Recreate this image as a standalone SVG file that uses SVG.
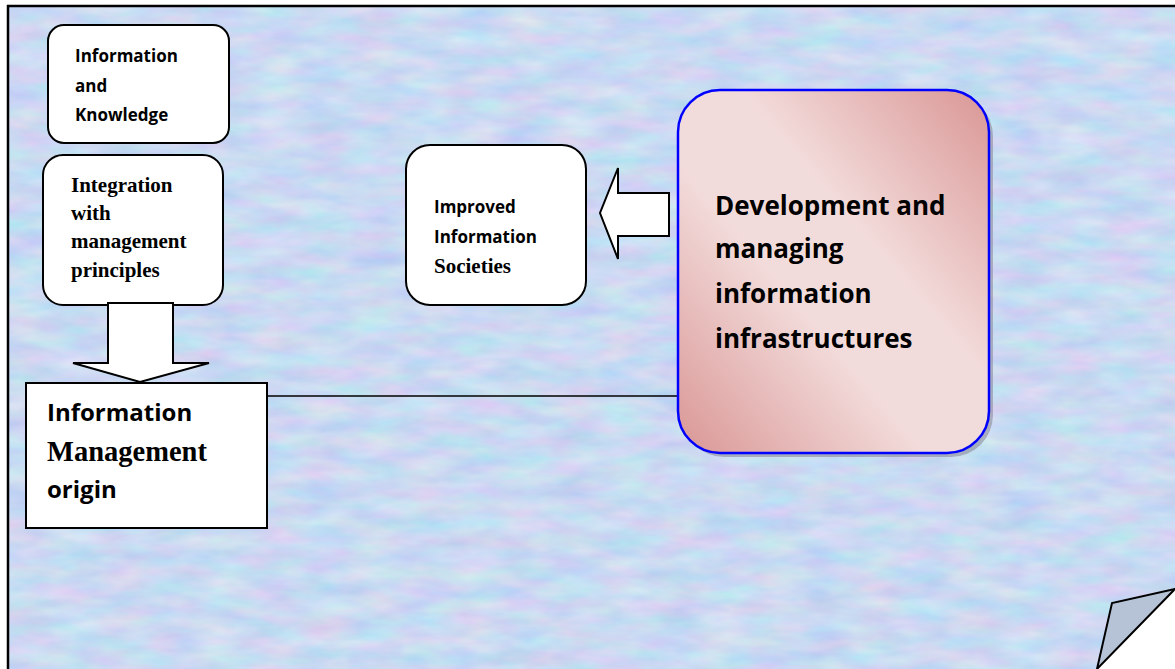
<svg xmlns="http://www.w3.org/2000/svg" width="1175" height="669" viewBox="0 0 1175 669">
<style>
.sans{font-family:"Open Sans","Liberation Sans",sans-serif;font-weight:bold;fill:#000}
.serif{font-family:"Liberation Serif","Times New Roman",serif;font-weight:bold;fill:#000}
.box{fill:#fff;stroke:#000;stroke-width:2}
.arrow{fill:#fff;stroke:#000;stroke-width:2;stroke-linejoin:miter}
</style>
<defs>
<filter id="tex" x="0" y="0" width="100%" height="100%" color-interpolation-filters="sRGB">
<feTurbulence type="fractalNoise" baseFrequency="0.02 0.06" numOctaves="3" seed="7"/>
<feColorMatrix type="matrix" values="0.6 0 0 0 0.5  0 0.4 0 0 0.65  0 0 0.15 0 0.87  0 0 0 0 1"/>
</filter>
<clipPath id="page"><path d="M8,6 H1175 V589 L1097,669 H8 Z"/></clipPath>
<linearGradient id="pink" x1="1" y1="0" x2="0" y2="1">
<stop offset="0" stop-color="#d99694"/>
<stop offset="0.4" stop-color="#f2dcdb"/>
<stop offset="0.6" stop-color="#f2dcdb"/>
<stop offset="1" stop-color="#d99694"/>
</linearGradient>
</defs>
<rect width="1175" height="669" fill="#fff"/>
<g id="page-bg">
<rect x="8" y="6" width="1167" height="663" fill="#c9dbf3" clip-path="url(#page)"/>
<rect x="8" y="6" width="1167" height="663" filter="url(#tex)" opacity="0.4" clip-path="url(#page)"/>
<path d="M8,669 V6 H1175" fill="none" stroke="#000" stroke-width="2.5"/>
<path d="M1175,589 L1112,603 L1097,669 Z" fill="#b6c3d6" stroke="#000" stroke-width="2" stroke-linejoin="miter"/>
</g>
<g id="connectors">
<line x1="267" y1="396" x2="680" y2="396" stroke="#000" stroke-width="1.5"/>
</g>
<g id="node-info-knowledge">
<rect class="box" x="48" y="25" width="181" height="118" rx="16"/>
<text class="sans" font-size="17" x="75" y="62">Information</text>
<text class="sans" font-size="17" x="75" y="92">and</text>
<text class="sans" font-size="17" x="75" y="121">Knowledge</text>
</g>
<g id="node-integration">
<rect class="box" x="43" y="155" width="180" height="150" rx="20"/>
<text class="serif" font-size="21" x="71" y="192">Integration</text>
<text class="serif" font-size="21" x="71" y="220">with</text>
<text class="serif" font-size="21" x="71" y="248">management</text>
<text class="serif" font-size="21" x="71" y="277">principles</text>
</g>
<g id="arrow-down">
<path class="arrow" d="M108,303 H173 V363 H209 L140,382 L73,363 H108 Z"/>
</g>
<g id="node-info-mgmt-origin">
<rect class="box" x="26" y="383" width="241" height="145"/>
<text class="sans" font-size="24" x="47" y="421">Information</text>
<text class="serif" font-size="28.5" x="47" y="461">Management</text>
<text class="sans" font-size="24" x="47" y="498">origin</text>
</g>
<g id="node-improved">
<rect class="box" x="406" y="145" width="180" height="160" rx="24"/>
<text class="sans" font-size="17" x="434" y="213">Improved</text>
<text class="sans" font-size="17" x="434" y="243">Information</text>
<text class="serif" font-size="21" x="434" y="273">Societies</text>
</g>
<g id="arrow-left">
<path class="arrow" d="M669,193 V236 H618 V259 L600,213 L618,168 V193 Z"/>
</g>
<g id="node-development">
<rect x="682" y="94" width="311" height="363" rx="42" fill="#8c8c9c" opacity="0.6"/>
<rect x="678" y="90" width="311" height="363" rx="42" fill="url(#pink)" stroke="#0000ff" stroke-width="2.5"/>
<text class="sans" font-size="26" x="715" y="215">Development and</text>
<text class="sans" font-size="26" x="715" y="258">managing</text>
<text class="sans" font-size="26" x="715" y="303">information</text>
<text class="sans" font-size="26" x="715" y="348">infrastructures</text>
</g>
</svg>
